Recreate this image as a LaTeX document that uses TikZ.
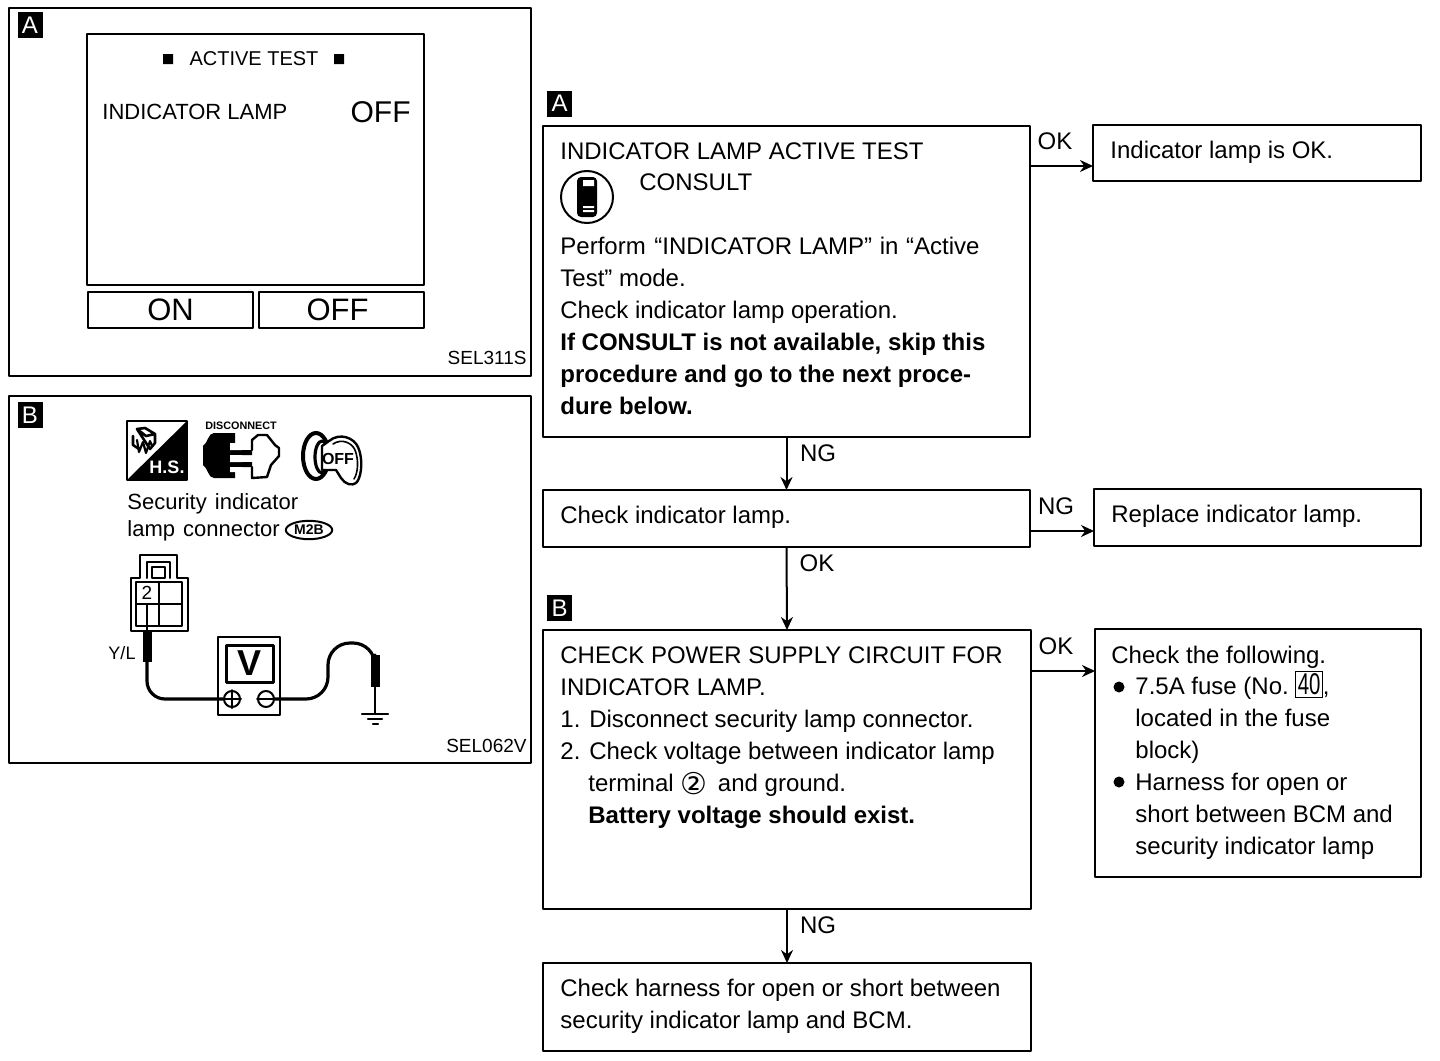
\documentclass[tikz,border=0pt]{standalone}
\usepackage{fontspec}
\setmainfont{Liberation Sans}
\newfontfamily\symfont{DejaVu Sans}
\usetikzlibrary{arrows.meta,shapes}
\tikzset{
  every picture/.style={line join=round,line cap=round,>=Stealth},
  flowbox/.style={draw,line width=1pt,anchor=north west,inner sep=0pt,outer sep=0pt},
  flowarrow/.style={->,line width=1pt,>={Stealth[length=6.5pt,width=6pt]}},
  boxtext/.style={anchor=north west,inner sep=0pt,align=left,font=\fontsize{12}{16}\selectfont},
  flowlabel/.style={inner sep=0pt,font=\fontsize{12}{14}\selectfont},
  tagbox/.style={fill=black,text=white,minimum width=12.5pt,minimum height=13pt,inner sep=0pt,font=\fontsize{12}{12}\selectfont},
  paneltext/.style={anchor=west,inner sep=0pt,font=\fontsize{11}{12}\selectfont},
  partcode/.style={anchor=east,inner sep=0pt,font=\fontsize{9.5}{12}\selectfont},
  softkey/.style={flowbox,minimum width=82.5pt,minimum height=18pt,font=\fontsize{15.5}{18}\selectfont},
  probewire/.style={line width=1.6pt},
}
\begin{document}
\begin{tikzpicture}[x=0.5pt,y=-0.5pt]
\useasboundingbox (0,0) rectangle (1440,1060);
% left panels
\node[flowbox,minimum width=261pt,minimum height=184pt] (panelA) at (9,8) {};
\node[flowbox,minimum width=261pt,minimum height=183.5pt] (panelB) at (9,396) {};
\node[tagbox] (tagpanelA) at (30,25) {A};
\node[tagbox] (tagpanelB) at (30,415) {B};
\node[partcode] (codeA) at (527,358) {SEL311S};
\node[partcode] (codeB) at (527,746) {SEL062V};
% test screen
\node[flowbox,minimum width=168.5pt,minimum height=125.5pt] (screen) at (87,34) {};
\node[softkey] (keyon) at (88,292) {ON};
\node[softkey] (keyoff) at (259,292) {OFF\kern4pt};
\node[paneltext,anchor=center,font=\fontsize{10}{12}\selectfont] (screentitle) at (254,59) {ACTIVE TEST};
\fill (163,54) rectangle (173,64) (334,54) rectangle (344,64);
\node[paneltext] (lampname) at (102,112) {INDICATOR LAMP};
\node[paneltext,anchor=east,font=\fontsize{15}{18}\selectfont] (lampstate) at (411,112) {OFF};
% service icons
\draw[line width=1pt] (127,421) rectangle (187,480);
\fill (187,421) -- (187,480) -- (127,480) -- cycle;
\node[text=white,inner sep=0pt,font=\bfseries\fontsize{9}{10}\selectfont] (hslabel) at (167,467) {H.S.};
\draw[line width=1.3pt] (133,436) -- (133,445) -- (139,449) (150,449) -- (155,443) -- (155,434) -- (145,428) -- (137,429) -- cycle (137,429) -- (146,436) -- (155,434);
\draw[line width=1.1pt] (137,440) -- (139,452) -- (143,442) -- (146,453) -- (150,441) -- (152,446);
\node[inner sep=0pt,font=\bfseries\fontsize{5.4}{6}\selectfont] (disclabel) at (241,426) {DISCONNECT};
\fill (235,433) -- (214,433) .. controls (208,433) and (208,443) .. (203,446) -- (203,465) .. controls (208,468) and (208,478) .. (214,478) -- (235,478) -- cycle;
\fill (235,450) rectangle (252,455) (235,462) rectangle (252,467);
\fill[white] (230,443) rectangle (242,450) (230,455) rectangle (242,462) (230,467) rectangle (242,472);
\draw[line width=1.2pt] (252,450) -- (252,440) -- (258,435) -- (267,435) -- (275,445) -- (279,448) -- (279,456) -- (271,465) -- (267,477) -- (252,478) -- (252,467);
\draw[line width=2pt] (316,456) ellipse (13 and 23);
\draw[line width=1.6pt] (322,457) ellipse (7 and 16);
\draw[line width=1.2pt,fill=white] (322,446) -- (329,441) .. controls (340,432) and (354,438) .. (358,447) .. controls (363,458) and (362,475) .. (357,482) .. controls (352,487) and (345,484) .. (341,478) -- (336,470) -- (322,470) -- cycle;
\draw[line width=.8pt] (333,444) .. controls (342,438) and (352,443) .. (355,450) .. controls (359,460) and (358,473) .. (354,479);
\node[inner sep=0pt,font=\bfseries\fontsize{8}{8}\selectfont] (keylabel) at (338,459) {OFF};
% connector and meter
\node[paneltext] (lampline1) at (127,504) {Security\hspace{1pt} indicator};
\node[paneltext] (lampline2) at (127,531) {lamp\hspace{1pt} connector};
\node[draw,ellipse,line width=1pt,inner sep=.8pt,font=\bfseries\fontsize{7}{8}\selectfont] (connid) at (309,530) {M2B};
\draw[line width=1pt] (140,578) -- (140,555) -- (177,555) -- (177,578) -- (188,578) -- (188,631) -- (131,631) -- (131,578) -- cycle;
\draw[line width=1pt] (147,578) -- (147,562) -- (170,562) -- (170,578);
\draw[line width=1pt] (152,567) rectangle (165,578);
\draw[line width=1pt] (136,582) rectangle (182,626) (136,604) -- (182,604) (159,582) -- (159,626);
\node[inner sep=0pt,font=\fontsize{9.5}{10}\selectfont] (pintwo) at (147,593) {2};
\node[inner sep=0pt,font=\fontsize{9}{10}\selectfont] (wirecolor) at (122,653) {Y/L};
\node[flowbox,minimum width=31pt,minimum height=39pt] (meter) at (218,637) {};
\node[flowbox,line width=1.5pt,minimum width=23.5pt,minimum height=18.5pt,font=\bfseries\fontsize{18}{18}\selectfont] (meterface) at (226,645) {V};
\node[draw,circle,line width=1pt,minimum size=8pt,inner sep=0pt] (plusjack) at (232,699) {};
\node[draw,circle,line width=1pt,minimum size=8pt,inner sep=0pt] (minusjack) at (266,699) {};
\draw[line width=1pt] (plusjack.north) -- (plusjack.south) (plusjack.west) -- (plusjack.east) (minusjack.west) -- (minusjack.east);
\coordinate (probeA) at (147,662);
\coordinate (probeB) at (375,655);
\draw[line width=1.2pt] (147,605) -- (147,632);
\fill (143,630) rectangle (152,662);
\fill (371,655) rectangle (380,687);
\draw[probewire,rounded corners=9pt] (probeA) -- (147,699) -- (plusjack.west);
\draw[probewire,rounded corners=11pt] (minusjack.east) -- (328,699) -- (328,643) -- (375,643) -- (probeB);
\draw[line width=1.2pt] (375,687) -- (375,714);
\draw[line width=1.2pt] (362,714) -- (388,714) (368,719) -- (382,719) (373,724) -- (378,724);
% flowchart boxes
\node[tagbox] (tagA) at (559.5,103.5) {A};
\node[tagbox] (tagB) at (559.5,608) {B};
\node[flowbox,minimum width=243.5pt,minimum height=155.5pt] (activetest) at (543,126) {};
\node[flowbox,minimum width=164pt,minimum height=28pt] (lampok) at (1093,125) {};
\node[flowbox,minimum width=243.5pt,minimum height=28.5pt] (checklamp) at (543,490) {};
\node[flowbox,minimum width=163.5pt,minimum height=28.5pt] (replacelamp) at (1094,489) {};
\node[flowbox,minimum width=244pt,minimum height=139.5pt] (powersupply) at (543,630) {};
\node[flowbox,minimum width=163pt,minimum height=124pt] (following) at (1095,629) {};
\node[flowbox,minimum width=244pt,minimum height=44pt] (harness) at (543,963) {};
% box texts
\node[boxtext] (t1) at (560,142) {INDICATOR LAMP ACTIVE TEST};
\node[boxtext] (t2) at (639,173) {CONSULT};
\node[boxtext] (t3) at (560,237) {Perform\hspace{1pt} ``INDICATOR LAMP''\hspace{.5pt} in\hspace{.5pt} ``Active\\Test'' mode.\\Check indicator lamp operation.\\\textbf{If CONSULT is not available, skip this}\\\textbf{procedure and go to the next proce-}\\\textbf{dure below.}};
\node[boxtext] (t4) at (1110,141) {Indicator lamp is OK.};
\node[boxtext] (t5) at (560,506) {Check indicator lamp.};
\node[boxtext] (t6) at (1111,505) {Replace indicator lamp.};
\node[boxtext] (t7) at (560,646) {CHECK POWER SUPPLY CIRCUIT FOR\\INDICATOR LAMP.\\1. Disconnect security lamp connector.\\2. Check voltage between indicator lamp};
\node[boxtext] (t8) at (588,774) {terminal {\symfont\fontsize{15}{16}\selectfont\smash{\raisebox{-1.5pt}{②}}}\hspace{2pt} and ground.};
\node[boxtext] (t8b) at (588,806) {\textbf{Battery voltage should exist.}};
\node[boxtext] (t9) at (1111,646) {Check the following.};
\node[boxtext] (t10) at (1135,677) {7.5A fuse (No.\ \smash{\setlength{\fboxsep}{.8pt}\fbox{\scalebox{.85}[1.25]{40}}},\\located in the fuse\\block)};
\node[boxtext] (t11) at (1135,773) {Harness for open or\\short between BCM and\\security indicator lamp};
\node[boxtext] (t12) at (560,979) {Check harness for open or short between\\security indicator lamp and BCM.};
\fill (1119,687) circle (5.5) (1119,782) circle (5.5);
% consult icon
\node[draw,circle,line width=1pt,minimum size=26pt,inner sep=0pt] (consulticon) at (587,197) {};
\fill[rounded corners=2pt] (577,177) rectangle (597,217);
\fill[white] (583,180) rectangle (594,186) (583,206) rectangle (594,208) (583,210) rectangle (594,212);
% connectors
\coordinate (okA) at (1060,166);
\coordinate (ngB) at (1060,531);
\coordinate (okC) at (1060,671);
\draw[flowarrow] (activetest.east |- okA) -- (lampok.west |- okA);
\draw[flowarrow] (checklamp.east |- ngB) -- (replacelamp.west |- ngB);
\draw[flowarrow] (powersupply.east |- okC) -- (following.west |- okC);
\draw[flowarrow] (activetest.south) -- (checklamp.north);
\draw[flowarrow] (checklamp.south) -- (powersupply.north);
\draw[flowarrow] (powersupply.south) -- (harness.north);
\node[flowlabel] (lbl1) at (1055,141) {OK};
\node[flowlabel] (lbl2) at (818,453) {NG};
\node[flowlabel] (lbl3) at (1056,506) {NG};
\node[flowlabel] (lbl4) at (817,563) {OK};
\node[flowlabel] (lbl5) at (1056,646) {OK};
\node[flowlabel] (lbl6) at (818,925) {NG};
\end{tikzpicture}
\end{document}
